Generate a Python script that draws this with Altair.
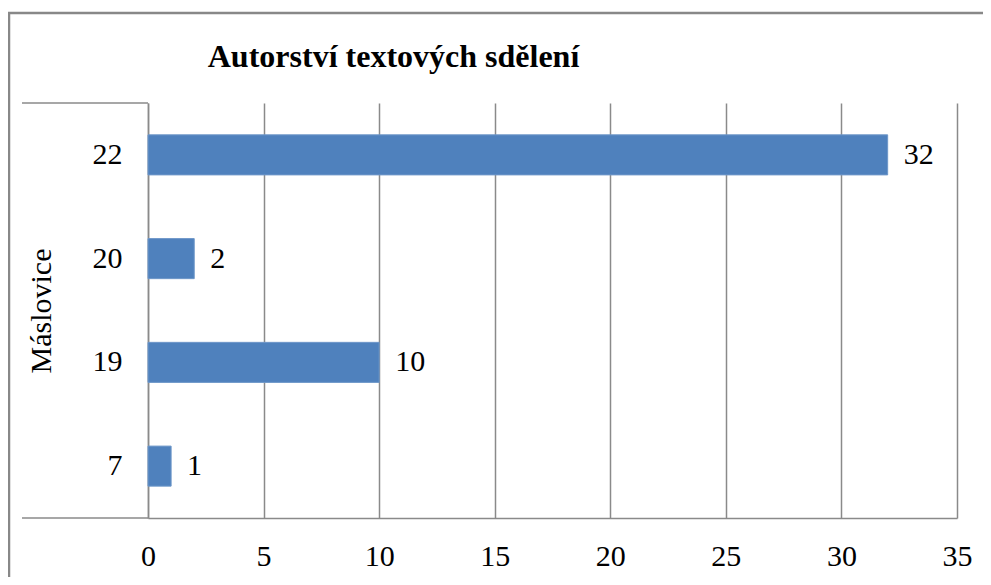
import altair as alt
import pandas as pd

categories = ["22", "20", "19", "7"]
values = [32, 2, 10, 1]
group_label = "Máslovice"
title_text = "Autorství textových sdělení"
x_ticks = [0, 5, 10, 15, 20, 25, 30, 35]

df = pd.DataFrame({"kat": categories, "pocet": values})
one = pd.DataFrame({"a": [0]})

FONT = "Liberation Serif"
GREY = "#8a8a8a"
W, H = 809, 415

y_enc = alt.Y(
    "kat:N",
    sort=categories,
    scale=alt.Scale(paddingInner=0.614, paddingOuter=0.307),
    axis=alt.Axis(
        title=group_label,
        titleFont=FONT,
        titleFontSize=30,
        titleFontWeight="normal",
        titleColor="black",
        titleAngle=-90,
        titleX=-107,
        titleY=H / 2,
        titleAlign="center",
        titleBaseline="middle",
        labelFont=FONT,
        labelFontSize=30,
        labelColor="black",
        labelPadding=26,
        ticks=False,
        domainColor=GREY,
        domainWidth=1.5,
    ),
)

x_enc = alt.X(
    "pocet:Q",
    scale=alt.Scale(domain=[0, 35], nice=False),
    axis=alt.Axis(
        title=None,
        values=x_ticks,
        labelFont=FONT,
        labelFontSize=30,
        labelColor="black",
        labelPadding=23,
        labelFlush=False,
        labelOverlap=False,
        ticks=False,
        grid=True,
        gridColor=GREY,
        gridWidth=1.5,
        domainColor=GREY,
        domainWidth=1.5,
    ),
)

bars = alt.Chart(df).mark_bar(color="#4F81BD", stroke="#6e97c9", strokeWidth=1).encode(
    x=x_enc, y=y_enc
)

labels = alt.Chart(df).mark_text(
    align="left", baseline="middle", dx=16, font=FONT, fontSize=30, color="black"
).encode(x="pocet:Q", y=alt.Y("kat:N", sort=categories), text="pocet:Q")

rule_top = alt.Chart(one).mark_rule(color=GREY, strokeWidth=1.5).encode(
    x=alt.value(-126), x2=alt.value(0), y=alt.value(0)
)
rule_bot = alt.Chart(one).mark_rule(color=GREY, strokeWidth=1.5).encode(
    x=alt.value(-126), x2=alt.value(0), y=alt.value(H)
)
border = alt.Chart(one).mark_rect(fill=None, stroke="#888888", strokeWidth=2.5).encode(
    x=alt.value(-139), x2=alt.value(900), y=alt.value(-90), y2=alt.value(700)
)

chart = (
    alt.layer(border, rule_top, rule_bot, bars, labels)
    .properties(
        width=W,
        height=H,
        autosize=alt.AutoSizeParams(type="none"),
        padding={"left": 140, "top": 95, "right": 26, "bottom": 59},
        title=alt.TitleParams(
            title_text,
            font=FONT,
            fontSize=32,
            fontWeight="bold",
            color="black",
            anchor="start",
            dx=200,
            dy=90,
            offset=28,
        ),
    )
    .configure_view(stroke=None)
    .configure_axis(gridCap="butt")
)

chart.save("out.html", embed_options={"renderer": "svg", "actions": False})
